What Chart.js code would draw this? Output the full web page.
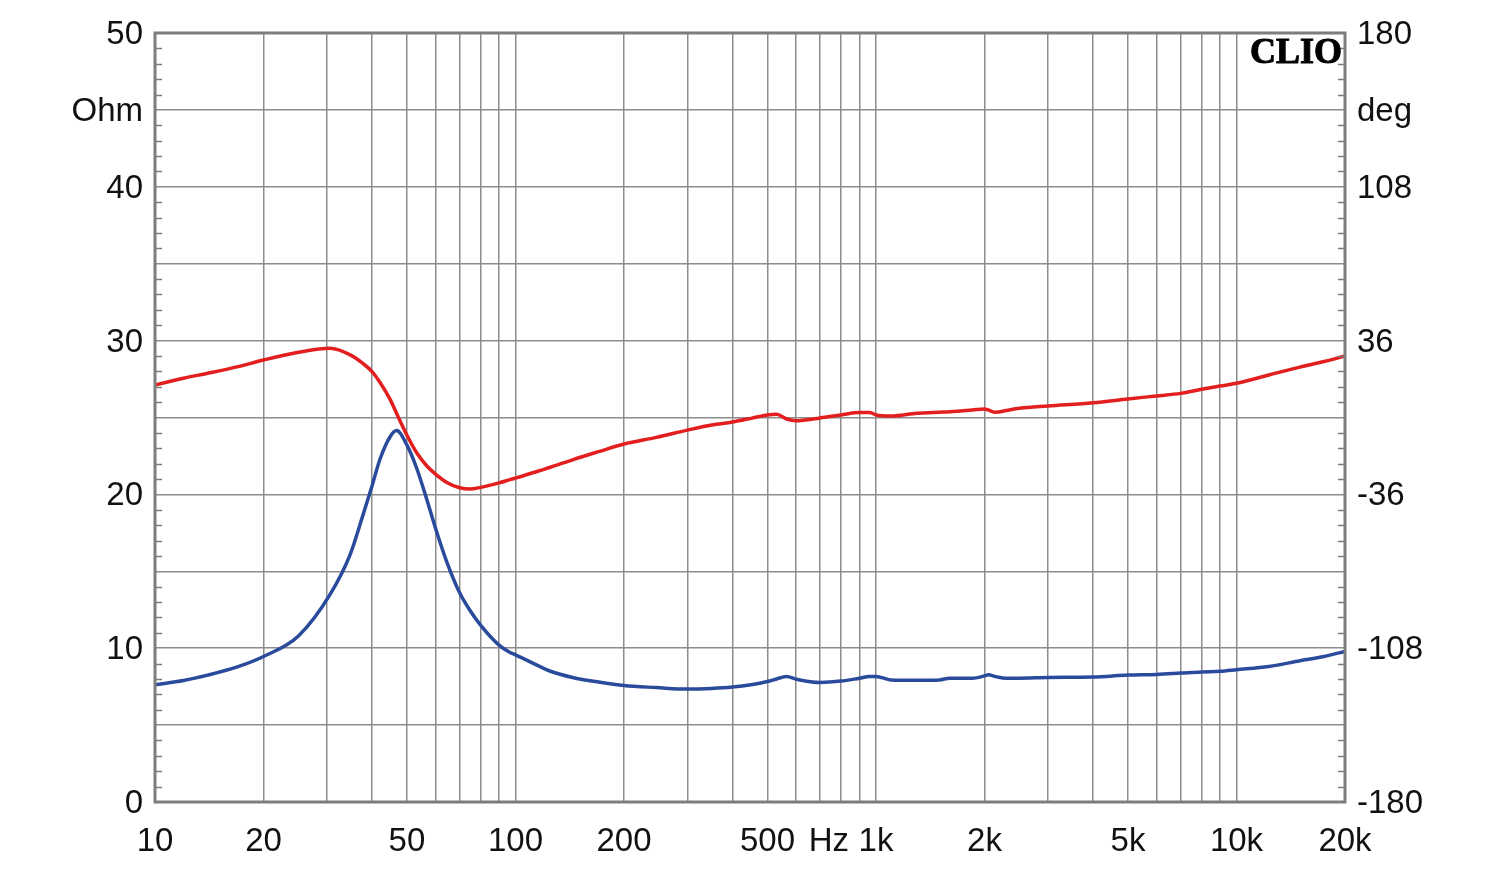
<!DOCTYPE html>
<html>
<head>
<meta charset="utf-8">
<script src="https://cdn.jsdelivr.net/npm/chart.js@4.4.1/dist/chart.umd.min.js"></script>
<style>
  html, body { margin: 0; padding: 0; background: #fff; }
  canvas { display: block; }
</style>
</head>
<body>
<canvas id="grafica" width="1500" height="870"></canvas>
<script>
// --- Datos ---
const frecuencias = [10, 12, 14, 17, 20, 25, 30.6, 34.8, 37.8, 40, 42.1, 44.9, 46.8, 50, 53.2, 56.7, 60, 64.5, 70, 74.8,
  80, 90, 96.6, 100, 117, 125, 144, 170, 200, 246, 300, 350, 400, 450, 500, 530, 565, 600, 700, 800,
  900, 960, 1000, 1100, 1300, 1500, 1600, 1850, 2000, 2050, 2150, 2300, 2500, 3000, 4000, 5000, 6000,
  7000, 8000, 9000, 10000, 12300, 15000, 17500, 20000];

// modulo de impedancia (Ohm, eje izquierdo)
const impedancia = [7.62, 7.9, 8.25, 8.8, 9.46, 10.8, 13.5, 16.1, 18.7, 20.55, 22.3, 23.75, 24.15, 23.2, 21.7, 19.7, 17.8, 15.6, 13.6, 12.45,
  11.5, 10.2, 9.72, 9.57, 8.8, 8.5, 8.1, 7.8, 7.57, 7.44, 7.34, 7.38, 7.47, 7.62, 7.83, 8.0, 8.16, 7.99, 7.77, 7.86,
  8.05, 8.16, 8.16, 7.94, 7.92, 7.94, 8.05, 8.05, 8.2, 8.27, 8.15, 8.05, 8.05, 8.1, 8.12, 8.25, 8.29,
  8.38, 8.46, 8.5, 8.6, 8.81, 9.18, 9.46, 9.79];

// fase (grados, eje derecho)
const fase = [15.2, 18.4, 20.7, 23.8, 26.9, 30.5, 32.4, 29.3, 25.2, 21.5, 16.4, 8.5, 1.9, -8.3, -16.5, -22.6, -26.5, -30.4, -32.9, -33.5,
  -32.7, -30.6, -29.1, -28.4, -24.8, -23.3, -19.8, -16.0, -12.4, -9.3, -5.9, -3.5, -2.1, -0.4, 1.2, 1.5, -0.7, -1.5, -0.2, 1.2,
  2.3, 2.3, 1.2, 0.7, 2.0, 2.5, 2.7, 3.5, 4.0, 3.5, 2.4, 3.3, 4.3, 5.4, 6.9, 8.7, 10.1,
  11.3, 13.2, 14.7, 16.0, 19.9, 23.6, 26.2, 28.8];

// lineas de rejilla y etiquetas del eje X
const rejillaX = [10, 20, 30, 40, 50, 60, 70, 80, 90, 100, 200, 300, 400, 500, 600, 700, 800, 900,
  1000, 2000, 3000, 4000, 5000, 6000, 7000, 8000, 9000, 10000, 20000];
const etiquetasX = { 10: '10', 20: '20', 50: '50', 100: '100', 200: '200', 500: '500',
  740: 'Hz', 1000: '1k', 2000: '2k', 5000: '5k', 10000: '10k', 20000: '20k' };
const posHz = 740;

const etiquetasOhm = { 0: '0', 10: '10', 20: '20', 30: '30', 40: '40', 45: 'Ohm', 50: '50' };
const etiquetasDeg = { '-180': '-180', '-108': '-108', '-36': '-36', 36: '36', 108: '108', 144: 'deg', 180: '180' };

const colorRejilla = '#8c8c8c';
const colorMarco = '#7d7d7d';
const fuente = { family: "'Liberation Sans', Arial, sans-serif", size: 33 };

// marco, marcas menores y logo
const marcoPlugin = {
  id: 'marco',
  afterDraw(chart) {
    const { ctx, chartArea: a, scales } = chart;
    ctx.save();
    // marcas menores cada 1 Ohm
    ctx.strokeStyle = colorMarco;
    ctx.lineWidth = 1.5;
    for (let v = 1; v < 50; v++) {
      if (v % 5 === 0) continue;
      const y = Math.round(scales.y.getPixelForValue(v)) + 0.5;
      ctx.beginPath();
      ctx.moveTo(a.left, y); ctx.lineTo(a.left + 7, y);
      ctx.moveTo(a.right - 7, y); ctx.lineTo(a.right, y);
      ctx.stroke();
    }
    ctx.lineWidth = 3;
    ctx.strokeStyle = colorMarco;
    ctx.strokeRect(a.left, a.top, a.right - a.left, a.bottom - a.top);

    // logo
    ctx.fillStyle = '#000';
    ctx.strokeStyle = '#000';
    ctx.lineWidth = 1;
    ctx.font = "bold 36px 'Liberation Serif', 'Times New Roman', serif";
    ctx.textAlign = 'right';
    ctx.textBaseline = 'alphabetic';
    ctx.fillText('CLIO', a.right - 3, a.top + 30);
    ctx.strokeText('CLIO', a.right - 3, a.top + 30);
    ctx.restore();
  }
};

const ctxGrafica = document.getElementById('grafica').getContext('2d');

new Chart(ctxGrafica, {
  type: 'line',
  data: {
    datasets: [
      {
        label: 'Fase',
        data: frecuencias.map((f, i) => ({ x: f, y: fase[i] })),
        yAxisID: 'y2',
        borderColor: '#e31e1e',
        borderWidth: 3.5,
        pointRadius: 0,
        cubicInterpolationMode: 'monotone',
        order: 0
      },
      {
        label: 'Impedancia',
        data: frecuencias.map((f, i) => ({ x: f, y: impedancia[i] })),
        yAxisID: 'y',
        borderColor: '#2a4b9c',
        borderWidth: 3.5,
        pointRadius: 0,
        cubicInterpolationMode: 'monotone',
        order: 1
      }
    ]
  },
  options: {
    responsive: false,
    animation: false,
    events: [],
    layout: { padding: { top: 33, left: 0, right: 0, bottom: 0 } },
    plugins: { legend: { display: false }, tooltip: { enabled: false } },
    scales: {
      x: {
        type: 'logarithmic',
        min: 10,
        max: 20000,
        afterBuildTicks: (scale) => {
          scale.ticks = rejillaX.concat([posHz]).sort((a, b) => a - b).map(v => ({ value: v }));
        },
        afterFit: (scale) => { scale.height = 68; },
        ticks: {
          autoSkip: false,
          maxRotation: 0,
          minRotation: 0,
          padding: 20,
          color: '#111',
          font: fuente,
          callback: (v) => etiquetasX[v] || ''
        },
        grid: {
          color: (c) => (c.tick && c.tick.value === posHz) ? 'rgba(0,0,0,0)' : colorRejilla,
          lineWidth: 1.5,
          drawTicks: false
        },
        border: { display: false }
      },
      y: {
        position: 'left',
        min: 0,
        max: 50,
        afterBuildTicks: (scale) => {
          scale.ticks = [0, 5, 10, 15, 20, 25, 30, 35, 40, 45, 50].map(v => ({ value: v }));
        },
        afterFit: (scale) => { scale.width = 155; },
        ticks: {
          padding: 12,
          labelOffset: 2,
          color: '#111',
          font: fuente,
          callback: (v) => etiquetasOhm[v] || ''
        },
        grid: { color: colorRejilla, lineWidth: 1.5, drawTicks: false },
        border: { display: false }
      },
      y2: {
        position: 'right',
        min: -180,
        max: 180,
        afterBuildTicks: (scale) => {
          const t = [];
          for (let v = -180; v <= 180; v += 36) t.push({ value: v });
          scale.ticks = t;
        },
        afterFit: (scale) => { scale.width = 155; },
        ticks: {
          padding: 12,
          labelOffset: 2,
          color: '#111',
          font: fuente,
          callback: (v) => etiquetasDeg[v] || ''
        },
        grid: { display: false, drawTicks: false },
        border: { display: false }
      }
    }
  },
  plugins: [marcoPlugin]
});
</script>
</body>
</html>
